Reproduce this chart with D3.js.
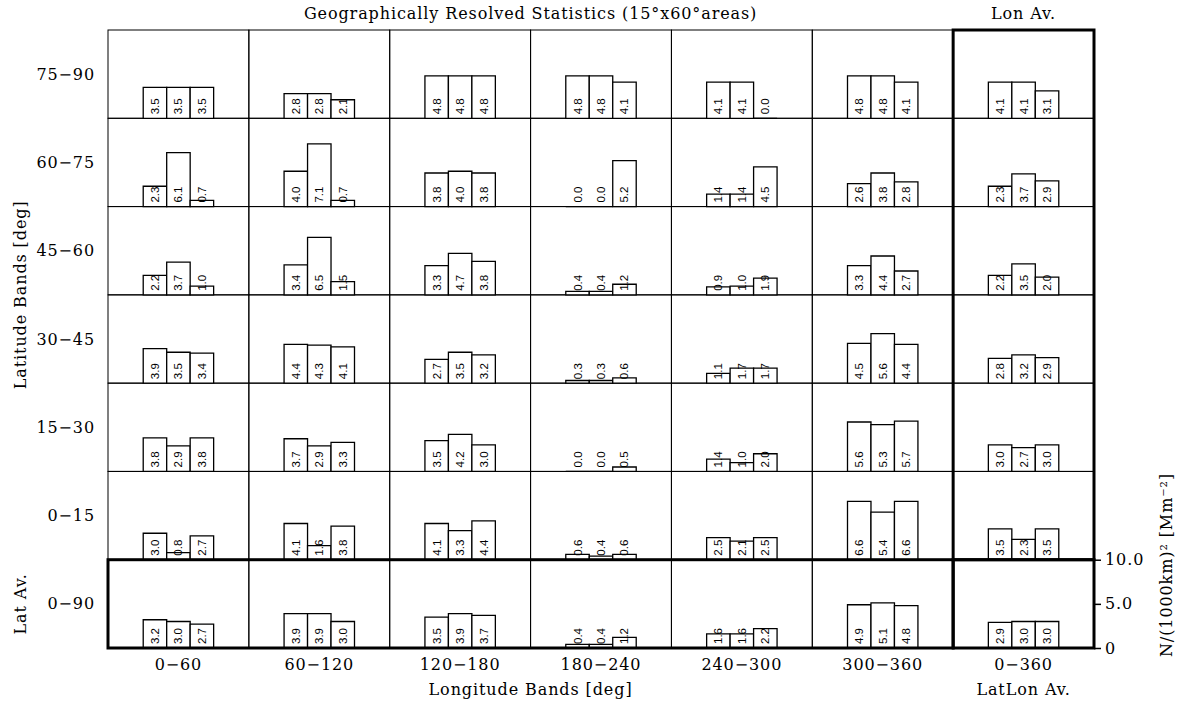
<!DOCTYPE html>
<html>
<head>
<meta charset="utf-8">
<script src="https://cdn.jsdelivr.net/npm/d3@7"></script>
<style>
  body { margin: 0; background: #fff; }
  text { fill: #000; }
  .lab { font-family: "DejaVu Serif", serif; font-size: 16px; letter-spacing: 0.9px; }
  .val { font-family: "Liberation Sans", Arial, sans-serif; font-size: 11.5px; }
</style>
</head>
<body>
<script>
// latitude rows (top to bottom) and longitude columns (left to right)
var latBands = ["75\u221290", "60\u221275", "45\u221260", "30\u221245", "15\u221230", "0\u221215", "0\u221290"];
var lonBands = ["0\u221260", "60\u2212120", "120\u2212180", "180\u2212240", "240\u2212300", "300\u2212360", "0\u2212360"];

// three bars per cell, one array per latitude band (last column = Lon Av.)
var lat75_90 = [[3.5, 3.5, 3.5], [2.8, 2.8, 2.1], [4.8, 4.8, 4.8], [4.8, 4.8, 4.1], [4.1, 4.1, 0.0], [4.8, 4.8, 4.1], [4.1, 4.1, 3.1]];
var lat60_75 = [[2.3, 6.1, 0.7], [4.0, 7.1, 0.7], [3.8, 4.0, 3.8], [0.0, 0.0, 5.2], [1.4, 1.4, 4.5], [2.6, 3.8, 2.8], [2.3, 3.7, 2.9]];
var lat45_60 = [[2.2, 3.7, 1.0], [3.4, 6.5, 1.5], [3.3, 4.7, 3.8], [0.4, 0.4, 1.2], [0.9, 1.0, 1.9], [3.3, 4.4, 2.7], [2.2, 3.5, 2.0]];
var lat30_45 = [[3.9, 3.5, 3.4], [4.4, 4.3, 4.1], [2.7, 3.5, 3.2], [0.3, 0.3, 0.6], [1.1, 1.7, 1.7], [4.5, 5.6, 4.4], [2.8, 3.2, 2.9]];
var lat15_30 = [[3.8, 2.9, 3.8], [3.7, 2.9, 3.3], [3.5, 4.2, 3.0], [0.0, 0.0, 0.5], [1.4, 1.0, 2.0], [5.6, 5.3, 5.7], [3.0, 2.7, 3.0]];
var lat0_15  = [[3.0, 0.8, 2.7], [4.1, 1.6, 3.8], [4.1, 3.3, 4.4], [0.6, 0.4, 0.6], [2.5, 2.1, 2.5], [6.6, 5.4, 6.6], [3.5, 2.3, 3.5]];
var latAv    = [[3.2, 3.0, 2.7], [3.9, 3.9, 3.0], [3.5, 3.9, 3.7], [0.4, 0.4, 1.2], [1.6, 1.6, 2.2], [4.9, 5.1, 4.8], [2.9, 3.0, 3.0]];

var rows = [lat75_90, lat60_75, lat45_60, lat30_45, lat15_30, lat0_15, latAv];
var axisTicks = [0, 5, 10];

var width = 1182, height = 704;
var svg = d3.select("body").append("svg")
    .attr("width", width)
    .attr("height", height);

//Scales
var xScale = d3.scaleBand().domain(d3.range(7)).range([108, 1094]);
var yScale = d3.scaleBand().domain(d3.range(7)).range([30, 648]);
var cw = xScale.bandwidth(), ch = yScale.bandwidth();
var hScale = d3.scaleLinear().domain([0, 10]).range([ch, 0]);
var barScale = d3.scaleBand().domain([0, 1, 2]).range([cw / 4, cw * 3 / 4]);

//Thin grid
var grid = svg.append("g");
d3.range(7).forEach(function (r) {
    d3.range(7).forEach(function (c) {
        grid.append("rect")
            .attr("x", xScale(c)).attr("y", yScale(r))
            .attr("width", cw).attr("height", ch)
            .style("fill", "none").style("stroke", "#000").style("stroke-width", 1);
    });
});

//Cells with bars
var cells = [];
rows.forEach(function (row, r) {
    row.forEach(function (vals, c) {
        vals.forEach(function (v, i) {
            cells.push({r: r, c: c, i: i, v: v});
        });
    });
});

var bars = svg.append("g").selectAll("g")
    .data(cells)
    .enter().append("g")
    .attr("transform", function (d) {
        return "translate(" + (xScale(d.c) + barScale(d.i)) + "," + yScale(d.r) + ")";
    });

bars.append("path")
    .attr("d", function (d) {
        var bw = barScale.bandwidth();
        return "M0," + ch + "V" + hScale(d.v) + "H" + bw + "V" + ch + "Z";
    })
    .style("fill", "#fff")
    .style("stroke", "#000")
    .style("stroke-width", 1.3);

bars.append("text")
    .attr("class", "val")
    .attr("transform", "translate(" + (barScale.bandwidth() / 2) + "," + (ch - 4) + ") rotate(-90)")
    .attr("dominant-baseline", "central")
    .style("text-anchor", "start")
    .text(function (d) { return d.v.toFixed(1); });

//Thick frames for averages
var thick = [[6, 0, 1, 6], [0, 6, 6, 1], [6, 6, 1, 1]];
svg.append("g").selectAll("rect")
    .data(thick)
    .enter().append("rect")
    .attr("x", function (d) { return xScale(d[0]); })
    .attr("y", function (d) { return yScale(d[1]); })
    .attr("width", function (d) { return d[2] * cw; })
    .attr("height", function (d) { return d[3] * ch; })
    .style("fill", "none").style("stroke", "#000").style("stroke-width", 3);

//Row labels
svg.append("g").selectAll("text")
    .data(latBands)
    .enter().append("text")
    .attr("class", "lab")
    .attr("x", 95)
    .attr("y", function (d, i) { return yScale(i) + ch / 2; })
    .attr("dominant-baseline", "central")
    .style("text-anchor", "end")
    .text(function (d) { return d; });

//Column labels
svg.append("g").selectAll("text")
    .data(lonBands)
    .enter().append("text")
    .attr("class", "lab")
    .attr("x", function (d, i) { return xScale(i) + cw / 2; })
    .attr("y", 670)
    .style("text-anchor", "middle")
    .text(function (d) { return d; });

//Titles
svg.append("text").attr("class", "lab")
    .attr("x", (xScale(0) + xScale(6)) / 2).attr("y", 19)
    .style("text-anchor", "middle")
    .text("Geographically Resolved Statistics (15\u00b0x60\u00b0areas)");
svg.append("text").attr("class", "lab")
    .attr("x", xScale(6) + cw / 2).attr("y", 19)
    .style("text-anchor", "middle")
    .text("Lon Av.");
svg.append("text").attr("class", "lab")
    .attr("x", (xScale(0) + xScale(6)) / 2).attr("y", 695)
    .style("text-anchor", "middle")
    .text("Longitude Bands [deg]");
svg.append("text").attr("class", "lab")
    .attr("x", xScale(6) + cw / 2).attr("y", 695)
    .style("text-anchor", "middle")
    .text("LatLon Av.");
svg.append("text").attr("class", "lab")
    .attr("transform", "translate(26," + (yScale(0) + yScale(6)) / 2 + ") rotate(-90)")
    .style("text-anchor", "middle")
    .text("Latitude Bands [deg]");
svg.append("text").attr("class", "lab")
    .attr("transform", "translate(26," + (yScale(6) + ch / 2) + ") rotate(-90)")
    .style("text-anchor", "middle")
    .text("Lat Av.");

//Right axis for bar heights
var axis = svg.append("g")
    .attr("transform", "translate(" + xScale.range()[1] + "," + yScale(6) + ")")
    .call(d3.axisRight(hScale)
        .tickValues(axisTicks)
        .tickSize(7)
        .tickPadding(4)
        .tickFormat(function (d) { return d === 0 ? "0" : d.toFixed(1); }));
axis.select(".domain").remove();
axis.selectAll("line").style("stroke-width", 1.5);
axis.selectAll("text")
    .attr("font-family", "DejaVu Serif, serif")
    .attr("font-size", 16)
    .style("letter-spacing", "0.9px");

svg.append("text").attr("class", "lab")
    .attr("transform", "translate(1172,565) rotate(-90)")
    .style("text-anchor", "middle")
    .text("N/(1000km)\u00b2 [Mm\u207b\u00b2]");
</script>
</body>
</html>
